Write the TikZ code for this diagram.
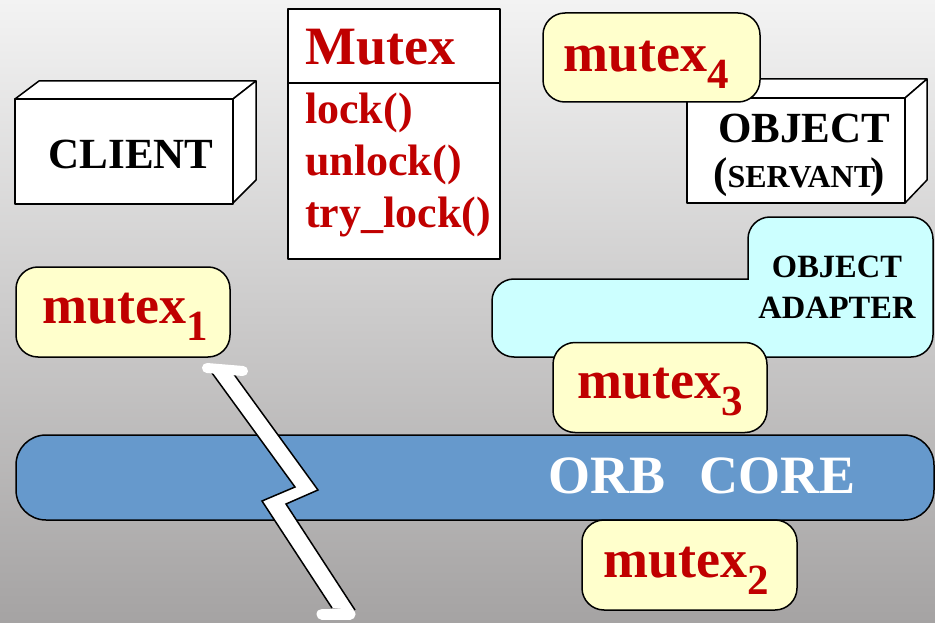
\documentclass[tikz,border=0pt]{standalone}
\usepackage{fontspec}
\setmainfont{Liberation Serif}
\definecolor{mred}{RGB}{192,0,0}
\definecolor{myel}{RGB}{255,255,204}
\definecolor{orbblue}{RGB}{102,153,204}
\definecolor{adcyan}{RGB}{204,255,255}
\definecolor{bgtop}{RGB}{243,243,243}
\definecolor{bgbot}{RGB}{165,163,163}
\newcommand\msub[1]{\raisebox{-17pt}{\fontsize{43}{43}\selectfont #1}}
\begin{document}
\begin{tikzpicture}[x=1pt,y=-1pt,
  edge/.style={draw=black,line width=1.5pt,line join=round},
  mbox/.style={edge,fill=myel,rounded corners=22pt,minimum height=90pt,inner sep=0pt},
  mtext/.style={text=mred,font=\fontsize{54}{60}\selectfont\bfseries,inner sep=0pt},
  btext/.style={text=black,font=\fontsize{43}{45}\selectfont\bfseries,inner sep=0pt},
  atext/.style={text=black,font=\fontsize{32.5}{36}\selectfont\bfseries,inner sep=0pt},
  ctext/.style={text=mred,font=\fontsize{44}{48}\selectfont\bfseries,inner sep=0pt}]
\path[use as bounding box] (0,0) rectangle (935,623);
\shade[top color=bgtop,bottom color=bgbot] (0,0) rectangle (935,623);

% ORB core
\node[edge,fill=orbblue,rounded corners=30pt,minimum width=918pt,minimum height=85pt,inner sep=0pt] (orb) at (475,477.5) {};
\node[inner sep=0pt,anchor=base west,text=white,font=\fontsize{54}{58}\selectfont\bfseries] (orbt) at (548,493) {ORB\hspace{34pt}CORE};

% mutex2
\node[mbox,minimum width=215pt] (m2box) at (689.5,565) {};
\node[mtext,anchor=base west] (m2) at (603,577) {mutex\msub{2}};

% object adapter
\fill[adcyan,rounded corners=22pt] (492,279) rectangle (933,357);
\fill[adcyan,rounded corners=22pt] (748,217) rectangle (933,357);
\draw[edge,line cap=rect,rounded corners=22pt] (748,279) -- (748,217) -- (933,217) -- (933,357) -- (492,357) -- (492,279) -- (748,279);
\node[atext,anchor=base] (oa1) at (837,277) {OBJECT};
\node[atext,anchor=base] (oa2) at (837,318) {ADAPTER};

% mutex3
\node[mbox,minimum width=214pt] (m3box) at (660,387.5) {};
\node[mtext,anchor=base west] (m3) at (577,398) {mutex\msub{3}};

% OBJECT (SERVANT) box
\filldraw[edge,fill=white] (687,98) -- (709,79) -- (927,79) -- (905,98) -- cycle;
\filldraw[edge,fill=white] (905,98) -- (927,79) -- (927,180) -- (905,203) -- cycle;
\node[edge,fill=white,minimum width=218pt,minimum height=105pt,inner sep=0pt] (obj) at (796,150.5) {};
\node[btext,align=left,anchor=base west] (objt) at (713,187) {\hspace*{5pt}OBJECT\\(\fontsize{32}{36}\selectfont SERVANT\kern-5pt\fontsize{43}{45}\selectfont)};

% mutex4
\node[mbox,minimum width=217pt,minimum height=89pt] (m4box) at (651.5,57.5) {};
\node[mtext,anchor=base west] (m4) at (563,72) {mutex\msub{4}};

% CLIENT box
\filldraw[edge,fill=white] (15,99) -- (39,81) -- (256,81) -- (233,99) -- cycle;
\filldraw[edge,fill=white] (233,99) -- (256,81) -- (256,180) -- (233,203) -- cycle;
\node[edge,fill=white,minimum width=218pt,minimum height=105pt,inner sep=0pt] (client) at (124,151.5) {};
\node[btext,anchor=base] (clientt) at (131,169) {CLIENT};

% Mutex class box
\node[edge,fill=white,minimum width=212pt,minimum height=250pt,inner sep=0pt] (cls) at (394,134) {};
\draw[edge] (cls.west |- 0,83) -- (cls.east |- 0,83);
\node[mtext,anchor=base west] (clsname) at (305,65) {Mutex};
\node[ctext,anchor=base west] (op1) at (305,124) {lock()};
\node[ctext,anchor=base west] (op2) at (305,176) {unlock()};
\node[ctext,anchor=base west] (op3) at (305,227) {try\_lock()};

% mutex1
\node[mbox,minimum width=214pt] (m1box) at (123,312) {};
\node[mtext,anchor=base west] (m1) at (42,323) {mutex\msub{1}};

% lightning bolt
\coordinate (b1) at (212,373);
\coordinate (b2) at (295,487);
\coordinate (b3) at (262,501);
\coordinate (b4) at (332,608);
\coordinate (c1) at (233,373);
\coordinate (c2) at (318,490);
\coordinate (c3) at (286,504);
\coordinate (c4) at (355,610);
\fill[white] (b1) -- (b2) -- (b3) -- (b4) -- (c4) -- (c3) -- (c2) -- (c1) -- cycle;
\draw[edge,line join=miter] (b1) -- (b2) -- (b3) -- (b4);
\draw[edge,line join=miter] (c1) -- (c2) -- (c3) -- (c4);
\coordinate (t1) at (207,368);
\coordinate (t2) at (243,371);
\coordinate (u1) at (322,614);
\coordinate (u2) at (350,614);
\draw[white,line width=10pt,line cap=round] (t1) -- (t2);
\draw[white,line width=11pt,line cap=round] (u1) -- (u2);
\end{tikzpicture}
\end{document}
